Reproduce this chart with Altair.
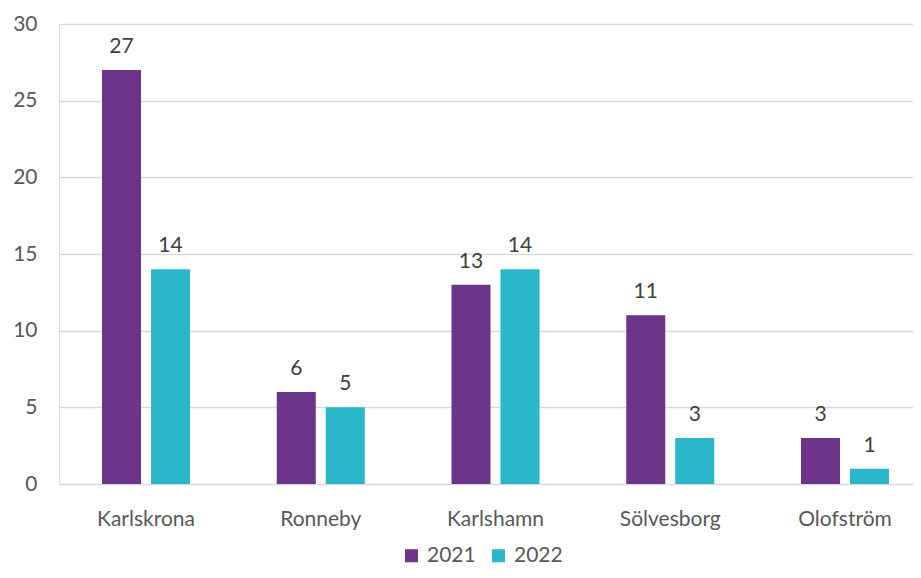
import altair as alt
import pandas as pd

categories = ["Karlskrona", "Ronneby", "Karlshamn", "Sölvesborg", "Olofström"]
years = ["2021", "2022"]
values_2021 = [27, 6, 13, 11, 3]
values_2022 = [14, 5, 14, 3, 1]

rows = []
for c, a, b in zip(categories, values_2021, values_2022):
    rows.append({"kommun": c, "year": "2021", "value": a})
    rows.append({"kommun": c, "year": "2022", "value": b})
df = pd.DataFrame(rows)

FONT = "Lato"
TXT = "#595959"
colors = ["#6C358A", "#2AB7CA"]

x = alt.X("kommun:N", sort=categories, title=None,
          scale=alt.Scale(paddingInner=0.4964, paddingOuter=0.1917, align=0.642),
          axis=alt.Axis(labelAngle=0, labelFontSize=21, labelColor=TXT, labelFont=FONT,
                        ticks=False, domain=False, labelPadding=24))
xo = alt.XOffset("year:N", sort=years, scale=alt.Scale(paddingInner=0.204))
y = alt.Y("value:Q", title=None,
          scale=alt.Scale(domain=[0, 30]),
          axis=alt.Axis(values=[0, 5, 10, 15, 20, 25, 30], labelFontSize=21, labelColor=TXT,
                        labelFont=FONT, ticks=False, domain=False, labelPadding=22,
                        gridColor="#D9D9D9", gridWidth=1.5))

color = alt.Color("year:N", sort=years, title=None,
                  scale=alt.Scale(domain=years, range=colors),
                  legend=alt.Legend(orient="none", legendX=342, legendY=521, direction="horizontal",
                                    padding=0, symbolType="square", symbolSize=170,
                                    symbolStrokeWidth=0,
                                    labelFontSize=21, labelColor=TXT, labelFont=FONT,
                                    columnPadding=12, labelOffset=5))

base = alt.Chart(df).encode(x=x, xOffset=xo)
bars = base.mark_bar().encode(y=y, color=color)
labels = base.mark_text(baseline="bottom", dy=-13, fontSize=21, color="#404040", font=FONT).encode(
    y=alt.Y("value:Q", scale=alt.Scale(domain=[0, 30])), text="value:Q")

chart = alt.layer(bars, labels).properties(
    width=854, height=460,
    autosize=alt.AutoSizeParams(type="none"),
    padding={"left": 51, "top": 16, "right": 0, "bottom": 86},
).configure_view(stroke=None).configure(background="white")

chart.save("out.html", embed_options={"renderer": "svg", "actions": False})
